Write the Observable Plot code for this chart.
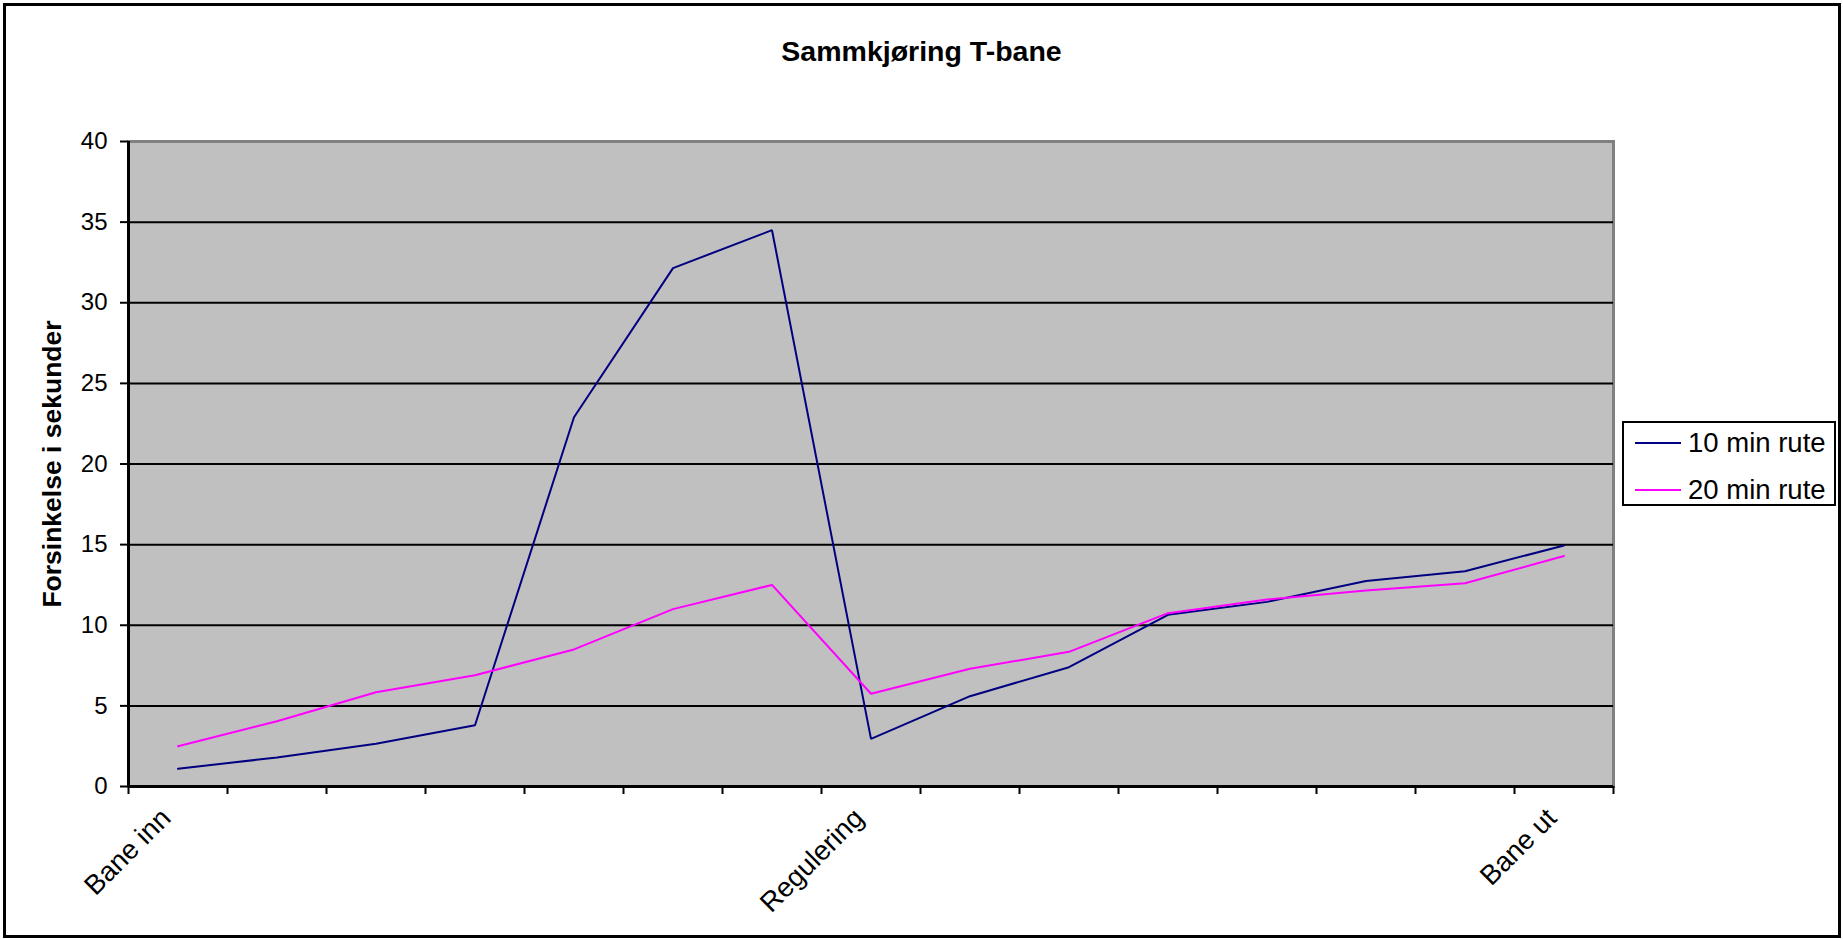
<!DOCTYPE html>
<html>
<head>
<meta charset="utf-8">
<script src="https://cdn.jsdelivr.net/npm/d3@7"></script>
<script src="https://cdn.jsdelivr.net/npm/@observablehq/plot@0.6"></script>
<style>
  html, body { margin: 0; padding: 0; background: #fff; overflow: hidden; }
  #wrap { position: relative; width: 1843px; height: 940px; font-family: "Liberation Sans", Arial, sans-serif; }
  #border { position: absolute; left: 3px; top: 3px; width: 1838px; height: 935px; border: 3px solid #000; box-sizing: border-box; pointer-events: none; }
  #chart { position: absolute; left: 0; top: 0; }
  #title { position: absolute; left: 0; top: 37px; width: 1843px; text-align: center; font-weight: bold; font-size: 28.5px; line-height: 28px; color: #000; }
  #legend { position: absolute; left: 1622px; top: 421px; width: 214px; height: 85px; border: 2px solid #000; box-sizing: border-box; background: #fff; }
  .row { position: absolute; left: 0; height: 30px; width: 210px; }
  .swatch { position: absolute; left: 11px; top: 14px; width: 46px; height: 2px; }
  .lab { position: absolute; left: 64px; top: 0; line-height: 30px; font-size: 27.5px; color: #000; white-space: nowrap; }
</style>
</head>
<body>
<div id="wrap">
  <div id="chart"></div>
  <div id="title"></div>
  <div id="legend"></div>
  <div id="border"></div>
</div>
<script>
// ---- data ----
const titleText = "Sammkjøring T-bane";
const yLabel = "Forsinkelse i sekunder";
const categories = [1, 2, 3, 4, 5, 6, 7, 8, 9, 10, 11, 12, 13, 14, 15];
const categoryLabels = ["Bane inn", "", "", "", "", "", "", "Regulering", "", "", "", "", "", "", "Bane ut"];
const seriesNames = ["10 min rute", "20 min rute"];
const seriesColors = ["#000080", "#ff00ff"];
const tenMin = [1.1, 1.8, 2.65, 3.8, 22.9, 32.15, 34.5, 2.95, 5.6, 7.4, 10.65, 11.45, 12.75, 13.35, 14.95];
const twentyMin = [2.5, 4.05, 5.85, 6.9, 8.5, 11.0, 12.5, 5.75, 7.3, 8.35, 10.75, 11.6, 12.15, 12.6, 14.3];
const yTicks = [0, 5, 10, 15, 20, 25, 30, 35, 40];

// ---- build table ----
const seriesValues = [tenMin, twentyMin];
const rows = [];
seriesNames.forEach((s, i) => {
  categories.forEach((c, j) => rows.push({cat: c, series: s, value: seriesValues[i][j]}));
});
const catBoundaries = d3.range(categories.length + 1).map(i => categories[0] - 0.5 + i);
const labelled = categories.filter((c, i) => categoryLabels[i] !== "");
const labelOf = new Map(categories.map((c, i) => [c, categoryLabels[i]]));

const W = 1843, H = 940;
const chart = Plot.plot({
  width: W,
  height: H,
  marginLeft: 128,
  marginRight: 230,
  marginTop: 141,
  marginBottom: 154,
  style: { fontFamily: "'Liberation Sans', Arial, sans-serif", fontSize: "24px", color: "#000", background: "transparent" },
  x: { type: "linear", domain: [categories[0] - 0.5, categories[categories.length - 1] + 0.5], label: null },
  y: { domain: [0, 40], label: null },
  color: { domain: seriesNames, range: seriesColors },
  marks: [
    Plot.frame({ fill: "#c0c0c0", stroke: "#808080", strokeWidth: 3 }),
    Plot.ruleY(yTicks.filter(d => d > 0 && d < 40), { stroke: "#000", strokeWidth: 2 }),
    Plot.ruleX([categories[0] - 0.5], { stroke: "#000", strokeWidth: 3 }),
    Plot.ruleY([0], { stroke: "#000", strokeWidth: 3 }),
    Plot.axisY(yTicks, { tickSize: 8, tickPadding: 13, strokeWidth: 2, fontSize: 24, label: null }),
    Plot.axisX(catBoundaries, { tickSize: 8, strokeWidth: 2, tickFormat: () => "", label: null }),
    Plot.axisX(labelled, { tickSize: 0, tickPadding: 27, dx: -12, tickRotate: -45, fontSize: 27.5, tickFormat: d => labelOf.get(d), label: null }),
    Plot.text([yLabel], { frameAnchor: "left", textAnchor: "middle", dx: -76, rotate: -90, fontWeight: "bold", fontSize: 26.5 }),
    Plot.line(rows, { x: "cat", y: "value", z: "series", stroke: "series", strokeWidth: 2, strokeLinejoin: "miter" })
  ]
});
document.getElementById("chart").appendChild(chart);
document.getElementById("title").textContent = titleText;

const legend = document.getElementById("legend");
seriesNames.forEach((s, i) => {
  const row = document.createElement("div");
  row.className = "row";
  row.style.top = (5 + i * 47) + "px";
  const sw = document.createElement("div");
  sw.className = "swatch";
  sw.style.background = seriesColors[i];
  const lab = document.createElement("div");
  lab.className = "lab";
  lab.textContent = s;
  row.appendChild(sw);
  row.appendChild(lab);
  legend.appendChild(row);
});
</script>
</body>
</html>
